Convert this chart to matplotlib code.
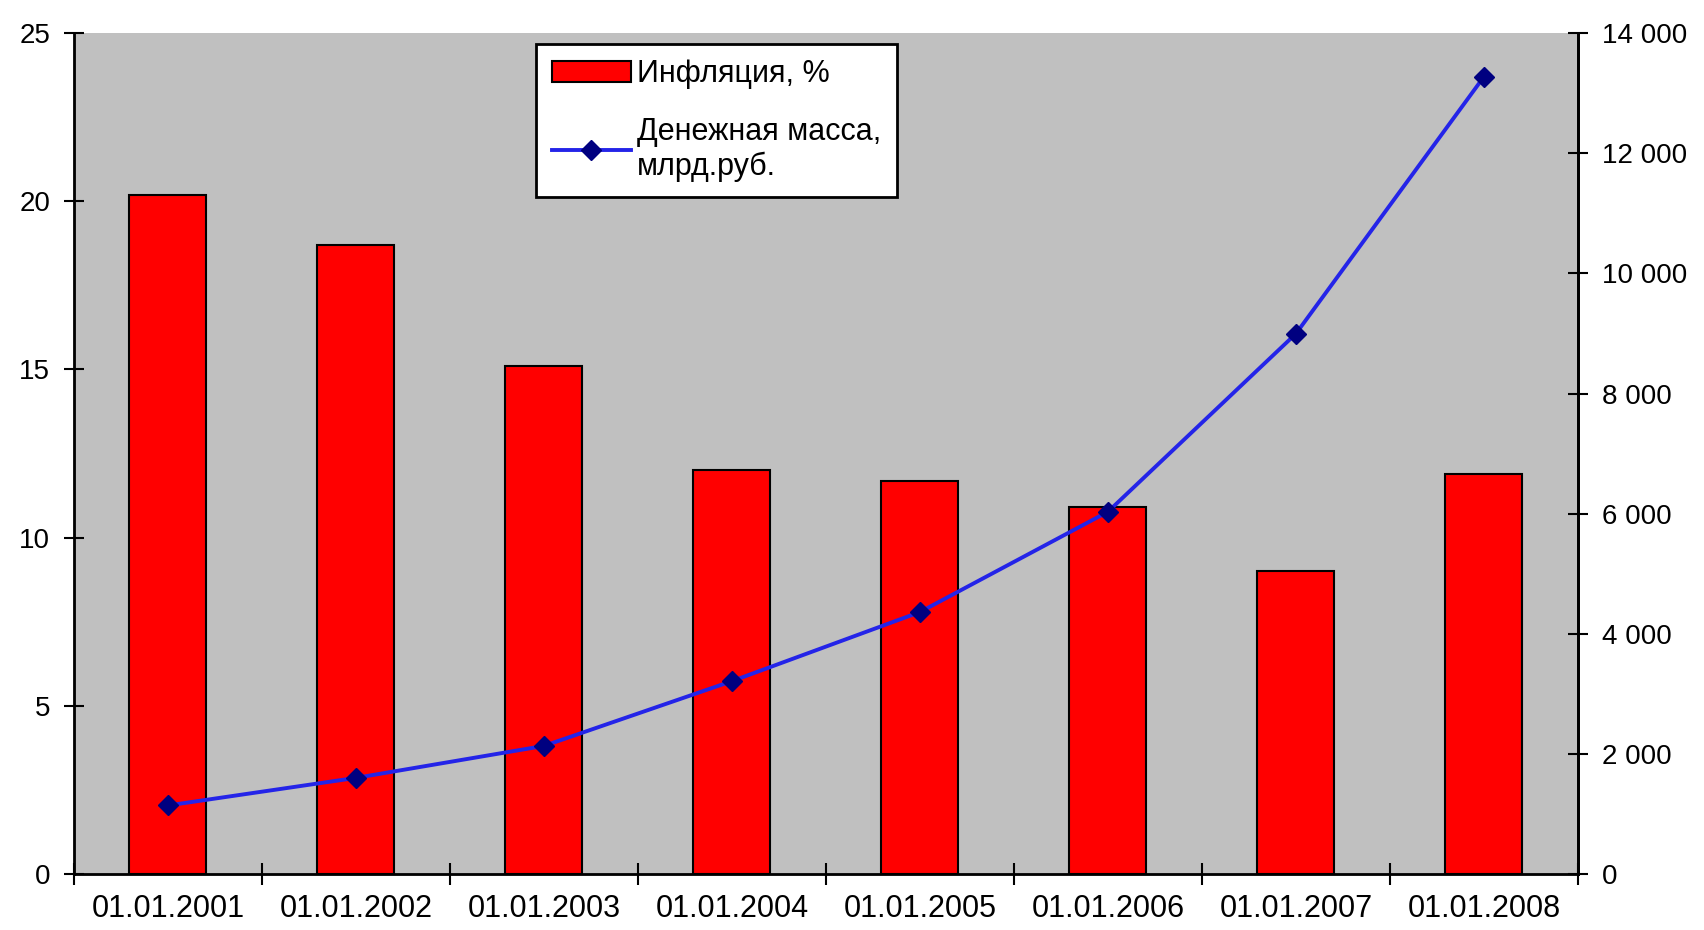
import matplotlib
matplotlib.use("Agg")
import matplotlib.pyplot as plt
from matplotlib.ticker import FuncFormatter, FixedLocator

plt.rcParams['font.family'] = ['Liberation Sans', 'DejaVu Sans']

dates = ["01.01.2001", "01.01.2002", "01.01.2003", "01.01.2004",
         "01.01.2005", "01.01.2006", "01.01.2007", "01.01.2008"]
inflation = [20.2, 18.7, 15.1, 12.0, 11.7, 10.9, 9.0, 11.9]
money = [1144, 1603, 2135, 3213, 4363, 6032, 8996, 13272]

fig = plt.figure(figsize=(17.04, 9.3), dpi=100)
ax1 = fig.add_axes([0.0434, 0.060, 0.8826, 0.9045])
ax1.set_facecolor('#c0c0c0')
x = list(range(len(dates)))

# столбцы - инфляция
bars = ax1.bar(x, inflation, width=0.41, color='#ff0000', edgecolor='black',
               linewidth=1.5, label='Инфляция, %', zorder=2)
ax1.set_xlim(-0.5, len(dates) - 0.5)
ax1.set_ylim(0, 25)
ax1.set_yticks([0, 5, 10, 15, 20, 25])
ax1.set_xticks(x)
ax1.set_xticklabels(dates)
ax1.xaxis.set_minor_locator(FixedLocator([i - 0.5 for i in range(len(dates) + 1)]))
ax1.tick_params(axis='x', which='major', length=0, labelsize=22, pad=14)
ax1.tick_params(axis='x', which='minor', length=16, width=1.5, direction='inout')
ax1.tick_params(axis='y', length=14, width=1.5, direction='inout', labelsize=20, pad=10)
ax1.spines['top'].set_visible(False)
for s in ['left', 'bottom', 'right']:
    ax1.spines[s].set_linewidth(2)

# линия - денежная масса
ax2 = ax1.twinx()
line, = ax2.plot(x, money, color='#2424e8', linewidth=2.8, marker='D',
                 markersize=10, markerfacecolor='#000080', markeredgecolor='#000080',
                 label='Денежная масса,\nмлрд.руб.', zorder=3)
ax2.set_ylim(0, 14000)
ax2.set_yticks(range(0, 14001, 2000))
ax2.yaxis.set_major_formatter(FuncFormatter(lambda v, p: f"{int(v):,}".replace(",", " ")))
ax2.tick_params(axis='y', length=14, width=1.5, direction='inout', labelsize=20, pad=10)
ax2.spines['top'].set_visible(False)
ax2.spines['right'].set_linewidth(2)

leg = ax2.legend([bars, line], ['Инфляция, %', 'Денежная масса,\nмлрд.руб.'],
                 loc='upper left', bbox_to_anchor=(0.3075, 0.987), borderaxespad=0,
                 fontsize=22, frameon=True, fancybox=False, edgecolor='black',
                 framealpha=1, handlelength=2.6, handletextpad=0.2,
                 borderpad=0.5, labelspacing=0.9)
leg.get_frame().set_linewidth(2)

fig.savefig('out.png', dpi=100)
